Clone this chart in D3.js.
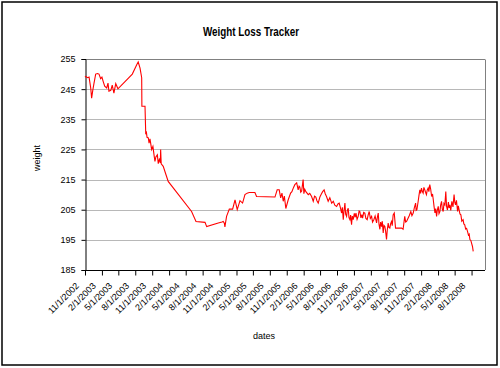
<!DOCTYPE html>
<html><head><meta charset="utf-8">
<script src="https://cdn.jsdelivr.net/npm/d3@7"></script>
<style>
html,body{margin:0;padding:0;background:#fff;}
svg{display:block;}
</style>
</head><body>
<svg id="c" width="500" height="368"></svg>
<script>
const chartTitle = "Weight Loss Tracker";
const xTitle = "dates";
const yTitle = "weight";
const yTicks = [185, 195, 205, 215, 225, 235, 245, 255];
const xTickLabels = ["11/1/2002","2/1/2003","5/1/2003","8/1/2003","11/1/2003","2/1/2004","5/1/2004","8/1/2004","11/1/2004","2/1/2005","5/1/2005","8/1/2005","11/1/2005","2/1/2006","5/1/2006","8/1/2006","11/1/2006","2/1/2007","5/1/2007","8/1/2007","11/1/2007","2/1/2008","5/1/2008","8/1/2008"];
const xDomain = ["2002-11-01","2008-10-13"];
const dates = ["2002-11-01","2002-11-05","2002-11-15","2002-11-23","2002-12-02","2002-12-07","2002-12-13","2002-12-20","2002-12-29","2003-01-08","2003-01-16","2003-01-25","2003-02-01","2003-02-08","2003-02-16","2003-02-27","2003-03-06","2003-03-11","2003-03-21","2003-03-29","2003-04-07","2003-04-17","2003-04-29","2003-07-16","2003-08-09","2003-08-17","2003-08-27","2003-09-05","2003-09-06","2003-09-23","2003-09-27","2003-09-30","2003-10-04","2003-10-11","2003-10-15","2003-10-20","2003-10-29","2003-11-05","2003-11-11","2003-11-16","2003-11-21","2003-11-29","2003-12-04","2003-12-11","2003-12-15","2003-12-17","2003-12-20","2003-12-31","2004-01-15","2004-01-27","2004-06-02","2004-06-26","2004-08-14","2004-08-23","2004-10-25","2004-11-14","2004-11-21","2004-11-27","2004-11-30","2004-12-09","2004-12-24","2005-01-11","2005-01-24","2005-02-05","2005-02-20","2005-03-06","2005-03-19","2005-03-31","2005-04-11","2005-05-12","2005-05-21","2005-08-29","2005-09-10","2005-09-21","2005-09-29","2005-10-06","2005-10-13","2005-10-19","2005-10-27","2005-11-09","2005-11-22","2005-11-29","2005-12-08","2005-12-15","2005-12-25","2006-01-02","2006-01-07","2006-01-11","2006-01-16","2006-01-21","2006-01-29","2006-02-02","2006-02-07","2006-02-13","2006-02-26","2006-03-06","2006-03-16","2006-03-25","2006-04-01","2006-04-08","2006-04-14","2006-04-21","2006-04-30","2006-05-08","2006-05-15","2006-05-23","2006-05-29","2006-06-05","2006-06-14","2006-06-23","2006-07-03","2006-07-12","2006-07-20","2006-07-30","2006-08-06","2006-08-13","2006-08-20","2006-08-26","2006-08-30","2006-09-04","2006-09-08","2006-09-13","2006-09-17","2006-09-22","2006-09-26","2006-10-01","2006-10-05","2006-10-10","2006-10-14","2006-10-19","2006-10-23","2006-10-28","2006-11-03","2006-11-08","2006-11-12","2006-11-18","2006-11-24","2006-11-29","2006-12-03","2006-12-09","2006-12-14","2006-12-18","2006-12-24","2006-12-30","2007-01-05","2007-01-12","2007-01-17","2007-01-23","2007-01-29","2007-02-05","2007-02-10","2007-02-17","2007-02-24","2007-03-04","2007-03-08","2007-03-13","2007-03-17","2007-03-22","2007-03-26","2007-03-31","2007-04-04","2007-04-09","2007-04-13","2007-04-18","2007-04-22","2007-04-27","2007-05-01","2007-05-06","2007-05-10","2007-05-15","2007-05-19","2007-05-24","2007-05-28","2007-06-02","2007-06-08","2007-06-15","2007-07-18","2007-07-26","2007-08-04","2007-08-09","2007-08-14","2007-08-22","2007-08-29","2007-09-06","2007-09-12","2007-09-19","2007-09-25","2007-10-02","2007-10-05","2007-10-09","2007-10-16","2007-10-20","2007-10-25","2007-10-29","2007-11-03","2007-11-07","2007-11-12","2007-11-16","2007-11-21","2007-11-25","2007-11-30","2007-12-04","2007-12-09","2007-12-13","2007-12-18","2007-12-23","2007-12-28","2008-01-02","2008-01-06","2008-01-10","2008-01-15","2008-01-19","2008-01-24","2008-01-28","2008-02-02","2008-02-06","2008-02-11","2008-02-15","2008-02-20","2008-02-24","2008-02-29","2008-03-04","2008-03-09","2008-03-14","2008-03-18","2008-03-23","2008-03-28","2008-04-01","2008-04-05","2008-04-10","2008-04-16","2008-04-22","2008-04-28","2008-05-02","2008-05-06","2008-05-11","2008-05-17","2008-05-21","2008-05-25","2008-05-30","2008-06-04","2008-06-09","2008-06-16","2008-06-20","2008-06-25","2008-06-30","2008-07-05","2008-07-10","2008-07-15","2008-07-19","2008-07-23","2008-07-28","2008-08-01","2008-08-06","2008-08-10"];
const weights = [249,249.2,248.8,249,245.4,242,244.5,247,250,250.2,250,248.5,249,247.5,246,245.4,247,244.3,244.6,246.3,243.7,246.8,245.1,250,253.1,254,252,248.8,239.3,239.3,230,231,229,228.8,227.1,228.5,225,226,223.2,221,222.5,223.2,220.3,222,220.5,225,220.2,219.4,216.6,214.4,204.4,201.1,200.8,199.4,200.6,200.9,201.1,200.5,199.3,202.8,205.2,205.2,208.3,205,208,207.2,210,210.5,210.7,210.7,209.4,209.2,211.6,211.6,208.9,210.5,207.8,209.5,205.4,208.3,210.5,211,212.4,213.3,213.9,211.6,212.8,212.5,210.8,211.2,215,210.3,211.8,211,210,210.4,209.4,207.8,209.5,209.2,208,207.2,209.2,210.2,211,211.6,210.3,209.4,207.8,209,207.2,207.8,206.5,206.1,206.9,207.2,205.5,203.9,205.8,201.7,204.5,207.2,203.5,202.8,204.8,205.5,202.4,201.7,203.2,200,202.9,201.7,203.8,202.5,203.9,201.8,202.8,204.6,204.4,202.3,203.4,202.2,204.1,203.9,202.1,201.7,203.2,204.4,202.1,202.8,200.9,201.7,202.9,200.6,202.4,203.9,200.2,198.5,200.9,199.4,201.2,197.3,199.8,199.4,197.9,195.1,198.2,200.6,199.1,198.9,200.3,201.1,199.7,203.3,203.9,198.9,198.9,198.5,202.8,200.9,201.1,202.2,203.1,204.4,203,203.9,205.6,207.2,204.8,205,207.8,209.6,211.6,210.4,212.2,211.1,210.5,212.4,211.6,210.8,210,211.5,212.2,211,213.3,211.8,209.4,210.2,208.3,206.2,203.9,205.4,202.8,204.9,206.1,203.7,204.4,206.5,207.8,205.2,204.4,207.1,206.6,211,206.2,204.9,207.5,205.6,206.6,204.8,207.8,205.9,210,207.4,206.6,208.1,204.4,206.3,205,203.6,203.3,201.2,201.7,200.3,200,198.6,198.8,197.8,196.6,196.9,195.1,194.8,193.9,192.8,191.2];

const svg = d3.select("#c");
const parseISO = d3.timeParse("%Y-%m-%d");
const parseLbl = d3.timeParse("%m/%d/%Y");
const L = 85, R = 485, T = 59, B = 270;
const x = d3.scaleTime().domain(xDomain.map(parseISO)).range([L, R]);
const y = d3.scaleLinear().domain([185, 255]).range([B, T]);
const font = "'Liberation Sans', Arial, sans-serif";

// outer chart border
svg.append("rect").attr("x",2).attr("y",2).attr("width",495).attr("height",363)
  .attr("fill","#fff").attr("stroke","#000").attr("stroke-width",1.5);

// gridlines
svg.append("g").selectAll("line").data(yTicks.filter(v => v > 185)).join("line")
  .attr("x1", L).attr("x2", R).attr("y1", d => Math.round(y(d)) + 0.5).attr("y2", d => Math.round(y(d)) + 0.5)
  .attr("stroke", d => d === 255 ? "#808080" : "#b8b8b8").attr("stroke-width", 1);
// plot right border
svg.append("line").attr("x1", R + 0.5).attr("x2", R + 0.5).attr("y1", Math.round(y(255)) + 0.5).attr("y2", B)
  .attr("stroke", "#808080");

// y axis
const yAxis = svg.append("g").attr("transform", `translate(${L + 0.5},0)`)
  .call(d3.axisLeft(y).tickValues(yTicks).tickSize(4).tickPadding(6).tickFormat(d3.format("d")));
yAxis.select(".domain").attr("stroke", "#000");
yAxis.selectAll(".tick line").attr("stroke", "#000");
yAxis.selectAll("text").attr("font-family", font).attr("font-size", 9).attr("fill", "#000");

// x axis
const xTickDates = xTickLabels.map(parseLbl);
const xAxis = svg.append("g").attr("transform", `translate(0,${B + 0.5})`)
  .call(d3.axisBottom(x).tickValues(xTickDates).tickSize(5).tickFormat((d, i) => xTickLabels[i]));
xAxis.select(".domain").attr("stroke", "#000").attr("d", `M${L},0H${R}`);
xAxis.selectAll(".tick line").attr("stroke", "#000");
xAxis.selectAll(".tick text").attr("font-family", font).attr("font-size", 9).attr("fill", "#000")
  .attr("text-anchor", "end").attr("dy", null).attr("y", 0).attr("x", 0)
  .attr("transform", "translate(-6,16) rotate(-45)");

// line
const pts = dates.map((d, i) => ({ d: parseISO(d), v: weights[i] }));
svg.append("path").datum(pts)
  .attr("fill", "none").attr("stroke", "#ff0000").attr("stroke-width", 1.1)
  .attr("d", d3.line().x(p => x(p.d)).y(p => y(p.v)));

// titles
svg.append("text").attr("x", 251).attr("y", 36).attr("text-anchor", "middle")
  .attr("font-family", font).attr("font-weight", "bold")
  .attr("font-size", 13).attr("textLength", 96).attr("lengthAdjust", "spacingAndGlyphs").text(chartTitle);
svg.append("text").attr("x", 264).attr("y", 339).attr("text-anchor", "middle")
  .attr("font-family", font).attr("font-size", 9).text(xTitle);
svg.append("text").attr("transform", "translate(40,158) rotate(-90)").attr("text-anchor", "middle")
  .attr("font-family", font).attr("font-size", 9).text(yTitle);
</script>
</body></html>
